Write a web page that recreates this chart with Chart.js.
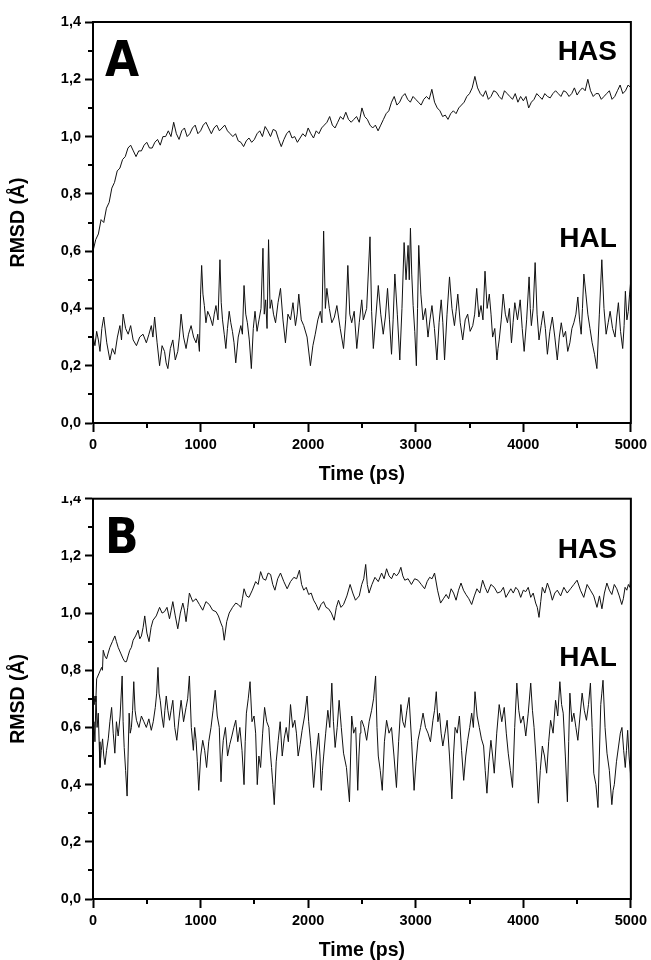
<!DOCTYPE html>
<html>
<head>
<meta charset="utf-8">
<script src="https://cdn.jsdelivr.net/npm/chart.js@4.4.0/dist/chart.umd.min.js"></script>
<style>
  html, body { margin: 0; padding: 0; background: #fff; width: 651px; height: 960px; overflow: hidden; }
  #panelA { position: absolute; left: 0; top: 0; width: 651px; height: 496px; background: #fff; z-index: 2; }
  #panelB { position: absolute; left: 0; top: 486px; width: 651px; height: 489px; background: #fff; z-index: 1; }
</style>
</head>
<body>
<div id="panelA"><canvas id="chartA" width="651" height="496"></canvas></div>
<div id="panelB"><canvas id="chartB" width="651" height="489"></canvas></div>
<script>
// ---- data: [time (ps), RMSD (Å)] ----
const hasA = [[0,0.60],[25,0.64],[50,0.66],[75,0.71],[100,0.70],[125,0.75],[150,0.77],[175,0.82],[200,0.84],[225,0.88],
  [250,0.89],[275,0.92],[300,0.93],[325,0.96],[350,0.97],[375,0.95],[400,0.93],[425,0.95],[450,0.95],[475,0.97],
  [500,0.98],[525,0.96],[550,0.96],[575,0.98],[600,0.99],[625,0.97],[650,1.00],[675,1.00],[700,1.02],[725,1.00],
  [750,1.05],[775,1.01],[800,0.99],[825,1.02],[850,1.03],[875,1.00],[900,1.01],[925,1.03],[950,1.04],[975,1.01],
  [1000,1.02],[1025,1.04],[1050,1.05],[1075,1.03],[1100,1.01],[1125,1.03],[1150,1.04],[1175,1.02],[1200,1.03],[1225,1.04],
  [1250,1.02],[1275,1.01],[1300,1.00],[1325,1.01],[1350,0.985],[1375,0.98],[1400,0.965],[1425,0.985],[1450,0.995],[1475,0.98],
  [1500,0.99],[1525,1.01],[1550,1.02],[1575,1.00],[1600,1.035],[1625,1.02],[1650,1.00],[1675,1.025],[1700,1.02],[1725,0.99],
  [1750,0.965],[1775,0.99],[1800,1.01],[1825,1.02],[1850,0.995],[1875,1.00],[1900,0.98],[1925,0.995],[1950,1.01],[1975,1.00],
  [2000,1.03],[2025,1.01],[2050,0.995],[2075,1.02],[2100,1.01],[2125,1.03],[2150,1.04],[2175,1.05],[2200,1.07],[2225,1.04],
  [2250,1.03],[2275,1.05],[2300,1.07],[2325,1.06],[2350,1.085],[2375,1.06],[2400,1.05],[2425,1.06],[2450,1.07],[2475,1.05],
  [2500,1.10],[2525,1.07],[2550,1.06],[2575,1.04],[2600,1.03],[2625,1.04],[2650,1.02],[2675,1.04],[2700,1.06],[2725,1.08],
  [2750,1.09],[2775,1.12],[2800,1.14],[2825,1.11],[2850,1.12],[2875,1.14],[2900,1.15],[2925,1.13],[2950,1.12],[2975,1.14],
  [3000,1.13],[3025,1.12],[3050,1.11],[3075,1.13],[3100,1.14],[3125,1.13],[3150,1.165],[3175,1.12],[3200,1.10],[3225,1.09],
  [3250,1.07],[3275,1.075],[3300,1.06],[3325,1.08],[3350,1.09],[3375,1.08],[3400,1.10],[3425,1.11],[3450,1.12],[3475,1.14],
  [3500,1.15],[3525,1.17],[3550,1.21],[3575,1.17],[3600,1.15],[3625,1.14],[3650,1.16],[3675,1.13],[3700,1.14],[3725,1.16],
  [3750,1.155],[3775,1.14],[3800,1.13],[3825,1.16],[3850,1.15],[3875,1.14],[3900,1.13],[3925,1.15],[3950,1.12],[3975,1.14],
  [4000,1.125],[4025,1.14],[4050,1.10],[4075,1.12],[4100,1.13],[4125,1.15],[4150,1.14],[4175,1.13],[4200,1.15],[4225,1.14],
  [4250,1.135],[4275,1.15],[4300,1.16],[4325,1.15],[4350,1.14],[4375,1.16],[4400,1.155],[4425,1.14],[4450,1.15],[4475,1.17],
  [4500,1.145],[4525,1.16],[4550,1.17],[4575,1.16],[4600,1.20],[4625,1.16],[4650,1.14],[4675,1.15],[4700,1.15],[4725,1.13],
  [4750,1.14],[4775,1.15],[4800,1.16],[4825,1.13],[4850,1.14],[4875,1.16],[4900,1.18],[4925,1.15],[4950,1.16],[4975,1.18],[5000,1.17]];

const halA = [[3,0.30],[18,0.27],[34,0.32],[50,0.29],[65,0.25],[82,0.33],[100,0.37],[128,0.28],[157,0.22],[180,0.26],
  [203,0.24],[227,0.30],[250,0.34],[265,0.29],[280,0.38],[303,0.33],[327,0.31],[350,0.34],[373,0.29],[404,0.27],
  [434,0.30],[465,0.31],[496,0.28],[520,0.31],[542,0.34],[557,0.30],[573,0.37],[596,0.28],[619,0.20],[642,0.27],
  [665,0.25],[680,0.21],[696,0.19],[719,0.26],[742,0.29],[765,0.22],[788,0.25],[803,0.30],[819,0.38],[842,0.30],
  [865,0.26],[888,0.31],[912,0.34],[935,0.30],[958,0.28],[974,0.31],[989,0.25],[1000,0.45],[1010,0.55],[1022,0.45],
  [1035,0.41],[1050,0.35],[1066,0.39],[1089,0.37],[1112,0.34],[1127,0.38],[1143,0.41],[1162,0.36],[1180,0.57],[1192,0.42],
  [1204,0.36],[1220,0.31],[1235,0.26],[1250,0.33],[1266,0.39],[1281,0.35],[1296,0.32],[1311,0.28],[1327,0.21],[1350,0.30],
  [1374,0.34],[1389,0.31],[1404,0.48],[1420,0.38],[1435,0.35],[1453,0.29],[1472,0.19],[1490,0.33],[1506,0.39],[1525,0.32],
  [1543,0.36],[1562,0.40],[1580,0.61],[1592,0.38],[1605,0.43],[1618,0.33],[1632,0.64],[1646,0.40],[1660,0.43],[1678,0.38],
  [1697,0.35],[1720,0.42],[1743,0.47],[1766,0.36],[1789,0.28],[1812,0.38],[1836,0.36],[1859,0.42],[1882,0.34],[1898,0.38],
  [1913,0.45],[1936,0.36],[1959,0.34],[1990,0.30],[2021,0.20],[2044,0.27],[2066,0.31],[2090,0.36],[2113,0.39],[2128,0.35],
  [2144,0.67],[2160,0.40],[2174,0.47],[2197,0.40],[2220,0.35],[2244,0.37],[2267,0.41],[2298,0.33],[2329,0.26],[2349,0.36],
  [2369,0.55],[2387,0.38],[2405,0.35],[2428,0.39],[2452,0.26],[2475,0.35],[2498,0.43],[2513,0.36],[2544,0.40],[2575,0.65],
  [2590,0.39],[2606,0.26],[2629,0.37],[2652,0.48],[2675,0.38],[2698,0.31],[2718,0.37],[2738,0.47],[2756,0.36],[2775,0.24],
  [2790,0.36],[2806,0.52],[2829,0.38],[2852,0.22],[2872,0.40],[2892,0.63],[2910,0.50],[2929,0.62],[2940,0.50],[2951,0.68],
  [2963,0.52],[2976,0.41],[2991,0.32],[3006,0.20],[3017,0.40],[3028,0.62],[3048,0.45],[3068,0.36],[3091,0.40],[3114,0.30],
  [3132,0.36],[3151,0.41],[3174,0.33],[3197,0.22],[3217,0.35],[3237,0.43],[3252,0.35],[3268,0.22],[3291,0.38],[3314,0.51],
  [3337,0.40],[3360,0.34],[3375,0.39],[3391,0.45],[3414,0.35],[3437,0.29],[3460,0.36],[3483,0.38],[3506,0.32],[3530,0.34],
  [3548,0.38],[3567,0.47],[3587,0.37],[3607,0.41],[3625,0.36],[3644,0.53],[3664,0.40],[3684,0.45],[3700,0.38],[3715,0.30],
  [3735,0.33],[3755,0.22],[3765,0.26],[3776,0.29],[3795,0.36],[3813,0.45],[3833,0.38],[3853,0.35],[3871,0.40],[3890,0.28],
  [3905,0.35],[3921,0.42],[3946,0.36],[3971,0.43],[3990,0.33],[4008,0.25],[4031,0.36],[4054,0.51],[4065,0.40],[4075,0.34],
  [4092,0.40],[4110,0.56],[4128,0.38],[4146,0.29],[4166,0.34],[4186,0.39],[4205,0.33],[4224,0.24],[4247,0.32],[4270,0.37],
  [4293,0.30],[4316,0.22],[4335,0.30],[4353,0.35],[4373,0.30],[4393,0.32],[4413,0.25],[4433,0.28],[4452,0.33],[4470,0.35],
  [4489,0.38],[4507,0.44],[4523,0.36],[4538,0.31],[4550,0.40],[4563,0.52],[4582,0.45],[4600,0.38],[4620,0.33],[4640,0.28],
  [4662,0.24],[4684,0.19],[4707,0.38],[4730,0.57],[4750,0.40],[4770,0.31],[4789,0.35],[4807,0.39],[4830,0.33],[4853,0.30],
  [4869,0.37],[4884,0.42],[4904,0.32],[4924,0.26],[4937,0.34],[4949,0.46],[4963,0.36],[4976,0.39],[4988,0.45],[5000,0.50]];

const hasB = [[0,0.70],[9,0.68],[18,0.71],[26,0.69],[34,0.77],[57,0.79],[80,0.81],[88,0.80],[95,0.87],[110,0.85],
  [126,0.84],[141,0.86],[157,0.88],[180,0.90],[203,0.92],[218,0.90],[234,0.88],[257,0.86],[280,0.84],[296,0.83],
  [311,0.83],[326,0.85],[342,0.87],[357,0.88],[373,0.905],[396,0.92],[419,0.94],[435,0.91],[450,0.92],[466,0.95],
  [481,0.99],[501,0.93],[521,0.90],[540,0.95],[558,0.975],[588,0.99],[619,1.02],[642,1.00],[665,1.005],[688,1.02],
  [711,0.98],[727,1.01],[742,1.04],[765,0.99],[788,0.945],[812,1.00],[835,1.035],[850,1.01],[865,0.97],[881,1.02],
  [896,1.07],[927,1.04],[958,1.05],[989,1.03],[1020,1.01],[1050,1.04],[1081,1.03],[1112,1.01],[1143,1.005],[1166,0.99],
  [1189,0.965],[1205,0.95],[1220,0.905],[1243,0.97],[1266,1.00],[1297,1.02],[1327,1.035],[1350,1.03],[1374,1.02],[1389,1.05],
  [1404,1.085],[1427,1.06],[1450,1.055],[1481,1.08],[1512,1.11],[1535,1.10],[1558,1.145],[1581,1.12],[1605,1.115],[1628,1.14],
  [1651,1.135],[1671,1.10],[1691,1.08],[1717,1.12],[1743,1.14],[1774,1.11],[1805,1.085],[1836,1.11],[1867,1.125],[1893,1.12],
  [1919,1.15],[1939,1.10],[1959,1.08],[1982,1.09],[2005,1.065],[2028,1.07],[2051,1.045],[2074,1.03],[2097,1.01],[2120,1.03],
  [2143,1.04],[2166,1.02],[2190,1.015],[2216,1.00],[2242,0.975],[2262,1.02],[2282,1.045],[2305,1.02],[2329,1.03],[2360,1.06],
  [2390,1.10],[2415,1.07],[2440,1.045],[2475,1.06],[2498,1.10],[2517,1.12],[2535,1.17],[2550,1.10],[2566,1.07],[2593,1.10],
  [2621,1.125],[2652,1.11],[2683,1.14],[2706,1.12],[2729,1.155],[2752,1.13],[2775,1.12],[2798,1.14],[2821,1.13],[2842,1.14],
  [2862,1.16],[2880,1.13],[2898,1.115],[2929,1.12],[2960,1.10],[2990,1.12],[3021,1.115],[3052,1.10],[3083,1.085],[3106,1.11],
  [3129,1.125],[3152,1.12],[3175,1.14],[3203,1.08],[3231,1.035],[3257,1.05],[3283,1.065],[3306,1.05],[3329,1.085],[3352,1.07],
  [3375,1.045],[3398,1.08],[3421,1.105],[3444,1.08],[3467,1.065],[3494,1.05],[3520,1.03],[3545,1.06],[3569,1.085],[3596,1.07],
  [3622,1.115],[3645,1.09],[3668,1.07],[3699,1.10],[3730,1.09],[3760,1.07],[3791,1.075],[3815,1.09],[3838,1.055],[3861,1.07],
  [3884,1.085],[3907,1.07],[3930,1.09],[3953,1.08],[3976,1.055],[4000,1.08],[4023,1.075],[4046,1.09],[4069,1.055],[4092,1.07],
  [4115,1.035],[4130,1.02],[4146,0.985],[4162,1.04],[4177,1.09],[4200,1.07],[4224,1.105],[4247,1.08],[4270,1.045],[4293,1.07],
  [4316,1.08],[4347,1.06],[4377,1.09],[4408,1.07],[4439,1.085],[4470,1.10],[4500,1.115],[4531,1.08],[4562,1.055],[4593,1.10],
  [4624,1.08],[4655,1.06],[4685,1.02],[4708,1.06],[4731,1.015],[4754,1.07],[4777,1.105],[4800,1.08],[4823,1.065],[4846,1.10],
  [4869,1.085],[4892,1.06],[4915,1.03],[4930,1.05],[4946,1.09],[4962,1.08],[4977,1.10],[4990,1.09],[5000,1.125]];

const halB = [[0,0.60],[9,0.62],[18,0.55],[28,0.71],[38,0.60],[49,0.65],[57,0.55],[65,0.46],[77,0.52],[89,0.56],
  [100,0.50],[111,0.47],[126,0.52],[142,0.56],[157,0.62],[173,0.67],[188,0.58],[203,0.51],[218,0.62],[234,0.57],
  [252,0.64],[271,0.78],[280,0.62],[290,0.53],[303,0.45],[317,0.36],[326,0.50],[336,0.65],[346,0.58],[357,0.60],
  [368,0.66],[379,0.76],[391,0.66],[404,0.625],[427,0.60],[450,0.64],[473,0.62],[496,0.60],[519,0.63],[542,0.59],
  [560,0.62],[579,0.67],[592,0.72],[604,0.81],[614,0.72],[625,0.695],[640,0.64],[656,0.60],[668,0.66],[681,0.71],
  [696,0.66],[711,0.625],[726,0.66],[742,0.695],[760,0.60],[779,0.555],[799,0.63],[819,0.695],[842,0.62],[865,0.67],
  [880,0.70],[896,0.78],[914,0.60],[933,0.52],[945,0.60],[958,0.555],[970,0.48],[983,0.38],[1001,0.50],[1020,0.555],
  [1038,0.52],[1056,0.46],[1076,0.55],[1097,0.60],[1116,0.66],[1136,0.73],[1155,0.64],[1174,0.60],[1190,0.41],[1200,0.50],
  [1211,0.555],[1231,0.60],[1251,0.50],[1271,0.54],[1291,0.57],[1309,0.60],[1327,0.625],[1346,0.55],[1365,0.60],[1385,0.52],
  [1404,0.40],[1415,0.55],[1426,0.65],[1443,0.70],[1460,0.76],[1478,0.62],[1497,0.64],[1512,0.58],[1527,0.40],[1542,0.50],
  [1558,0.46],[1577,0.58],[1595,0.67],[1615,0.62],[1635,0.60],[1647,0.52],[1660,0.46],[1672,0.40],[1685,0.33],[1703,0.48],
  [1722,0.555],[1740,0.62],[1759,0.50],[1777,0.56],[1796,0.60],[1816,0.55],[1836,0.68],[1856,0.60],[1876,0.625],[1891,0.58],
  [1907,0.50],[1925,0.54],[1944,0.59],[1967,0.64],[1990,0.71],[2005,0.62],[2021,0.555],[2036,0.48],[2051,0.39],[2074,0.50],
  [2097,0.58],[2110,0.50],[2122,0.38],[2133,0.45],[2144,0.50],[2163,0.58],[2183,0.66],[2201,0.60],[2220,0.755],[2235,0.62],
  [2251,0.53],[2270,0.60],[2288,0.695],[2308,0.60],[2329,0.51],[2356,0.46],[2384,0.34],[2395,0.50],[2405,0.64],[2423,0.58],
  [2442,0.60],[2451,0.50],[2461,0.38],[2472,0.50],[2483,0.58],[2490,0.62],[2498,0.625],[2521,0.60],[2544,0.555],[2567,0.62],
  [2590,0.66],[2608,0.70],[2627,0.78],[2640,0.60],[2652,0.50],[2670,0.45],[2689,0.38],[2709,0.55],[2729,0.625],[2752,0.58],
  [2775,0.60],[2798,0.50],[2821,0.39],[2841,0.55],[2862,0.68],[2880,0.62],[2898,0.60],[2918,0.66],[2938,0.705],[2962,0.55],
  [2985,0.38],[3003,0.48],[3021,0.555],[3045,0.60],[3068,0.65],[3091,0.60],[3114,0.58],[3137,0.55],[3160,0.625],[3175,0.66],
  [3191,0.725],[3206,0.62],[3221,0.65],[3236,0.58],[3252,0.535],[3272,0.58],[3292,0.625],[3314,0.50],[3336,0.35],[3351,0.50],
  [3366,0.60],[3386,0.58],[3406,0.64],[3426,0.52],[3446,0.415],[3465,0.50],[3483,0.555],[3502,0.60],[3520,0.65],[3536,0.60],
  [3551,0.725],[3571,0.64],[3591,0.60],[3611,0.56],[3631,0.535],[3646,0.45],[3662,0.37],[3680,0.48],[3699,0.555],[3715,0.50],
  [3730,0.44],[3753,0.58],[3776,0.68],[3800,0.62],[3823,0.67],[3842,0.58],[3860,0.51],[3880,0.45],[3900,0.39],[3920,0.60],
  [3940,0.755],[3958,0.66],[3976,0.615],[4000,0.64],[4023,0.57],[4046,0.65],[4069,0.755],[4085,0.66],[4100,0.60],[4120,0.48],
  [4140,0.335],[4158,0.45],[4177,0.535],[4197,0.50],[4217,0.44],[4236,0.55],[4254,0.625],[4277,0.58],[4300,0.695],[4320,0.64],
  [4340,0.76],[4356,0.68],[4371,0.65],[4391,0.50],[4410,0.34],[4422,0.55],[4433,0.72],[4452,0.62],[4470,0.65],[4489,0.60],
  [4507,0.555],[4527,0.64],[4547,0.72],[4567,0.66],[4587,0.625],[4606,0.68],[4624,0.755],[4640,0.60],[4655,0.44],[4675,0.40],
  [4694,0.32],[4707,0.50],[4720,0.68],[4730,0.72],[4741,0.765],[4760,0.60],[4778,0.51],[4800,0.45],[4823,0.33],[4835,0.38],
  [4846,0.40],[4866,0.48],[4886,0.535],[4902,0.58],[4917,0.60],[4933,0.52],[4948,0.46],[4959,0.52],[4970,0.59],[4983,0.50],
  [4995,0.44],[5000,0.35]];

const yTicks = [0, 0.2, 0.4, 0.6, 0.8, 1.0, 1.2, 1.4];
const xTicks = [0, 1000, 2000, 3000, 4000, 5000];
const yMinorTicks = [0.1, 0.3, 0.5, 0.7, 0.9, 1.1, 1.3];
const xMinorTicks = [500, 1500, 2500, 3500, 4500];

// panel labels placed in data coordinates
const labelsA = [
  { text: 'A', x: 111, y: 1.21, big: true },
  { text: 'HAS', x: 4870, y: 1.268 },
  { text: 'HAL', x: 4870, y: 0.614 }
];
const labelsB = [
  { text: 'B', x: 111, y: 1.21, big: true },
  { text: 'HAS', x: 4870, y: 1.192 },
  { text: 'HAL', x: 4870, y: 0.815 }
];

function toPoints(pairs) {
  return pairs.map(p => ({ x: p[0], y: p[1] }));
}

const panelPlugin = {
  id: 'panelPlugin',
  afterDraw(chart) {
    const ctx = chart.ctx;
    const area = chart.chartArea;
    const xs = chart.scales.x;
    const ys = chart.scales.y;
    ctx.save();
    ctx.strokeStyle = '#000';
    ctx.lineWidth = 2;
    ctx.strokeRect(area.left, area.top, area.right - area.left, area.bottom - area.top);

    // minor ticks
    ctx.beginPath();
    yMinorTicks.forEach(v => {
      const py = Math.round(ys.getPixelForValue(v));
      ctx.moveTo(area.left - 5, py);
      ctx.lineTo(area.left, py);
    });
    xMinorTicks.forEach(v => {
      const px = Math.round(xs.getPixelForValue(v));
      ctx.moveTo(px, area.bottom);
      ctx.lineTo(px, area.bottom + 5);
    });
    ctx.stroke();

    // panel letter and series names
    const labels = chart.options.plugins.panelPlugin.labels;
    ctx.fillStyle = '#000';
    ctx.textBaseline = 'alphabetic';
    labels.forEach(l => {
      const px = xs.getPixelForValue(l.x);
      const py = ys.getPixelForValue(l.y);
      if (l.big) {
        ctx.font = 'bold 49px "Liberation Sans Narrow", "DejaVu Sans Condensed", sans-serif';
        ctx.textAlign = 'left';
      } else {
        ctx.font = 'bold 28px "Liberation Sans", Arial, sans-serif';
        ctx.textAlign = 'right';
      }
      ctx.fillText(l.text, px, py);
    });
    ctx.restore();
  }
};

function makeChart(id, has, hal, labels, padTop, xAxisHeight, xTitlePad) {
  const ctx = document.getElementById(id).getContext('2d');
  return new Chart(ctx, {
    type: 'line',
    data: {
      datasets: [
        { label: 'HAS', data: toPoints(has), borderColor: '#111', borderWidth: 1, pointRadius: 0, tension: 0, fill: false },
        { label: 'HAL', data: toPoints(hal), borderColor: '#111', borderWidth: 1, pointRadius: 0, tension: 0, fill: false }
      ]
    },
    options: {
      responsive: false,
      animation: false,
      layout: { padding: { top: padTop, right: 17, left: 0, bottom: 0 } },
      plugins: {
        legend: { display: false },
        tooltip: { enabled: false },
        panelPlugin: { labels: labels }
      },
      scales: {
        x: {
          type: 'linear',
          min: 0,
          max: 5000,
          afterBuildTicks: (scale) => { scale.ticks = xTicks.map(v => ({ value: v })); },
          afterFit: (scale) => { scale.height = xAxisHeight; },
          ticks: {
            color: '#000',
            padding: 4,
            maxRotation: 0,
            font: { family: 'Liberation Sans', size: 14.5, weight: 'bold' },
            callback: v => String(v)
          },
          grid: { drawOnChartArea: false, drawTicks: true, tickLength: 9, tickWidth: 2, tickColor: '#000' },
          border: { display: true, color: '#000', width: 2 },
          title: {
            display: true,
            text: 'Time (ps)',
            color: '#000',
            font: { family: 'Liberation Sans', size: 19.5, weight: 'bold' },
            padding: { top: 0, bottom: xTitlePad }
          }
        },
        y: {
          min: 0,
          max: 1.4,
          afterBuildTicks: (scale) => { scale.ticks = yTicks.map(v => ({ value: v })); },
          afterFit: (scale) => { scale.width = 93; },
          ticks: {
            color: '#000',
            padding: 4,
            font: { family: 'Liberation Sans', size: 14.5, weight: 'bold' },
            callback: v => v.toFixed(1).replace('.', ',')
          },
          grid: { drawOnChartArea: false, drawTicks: true, tickLength: 8, tickWidth: 2, tickColor: '#000' },
          border: { display: true, color: '#000', width: 2 },
          title: {
            display: true,
            text: 'RMSD (Å)',
            color: '#000',
            font: { family: 'Liberation Sans', size: 19.5, weight: 'bold' },
            padding: { top: 7, bottom: 0 }
          }
        }
      }
    },
    plugins: [panelPlugin]
  });
}

makeChart('chartA', hasA, halA, labelsA, 22, 73, 9.6);
makeChart('chartB', hasB, halB, labelsB, 12.5, 76, 12.6);
</script>
</body>
</html>
